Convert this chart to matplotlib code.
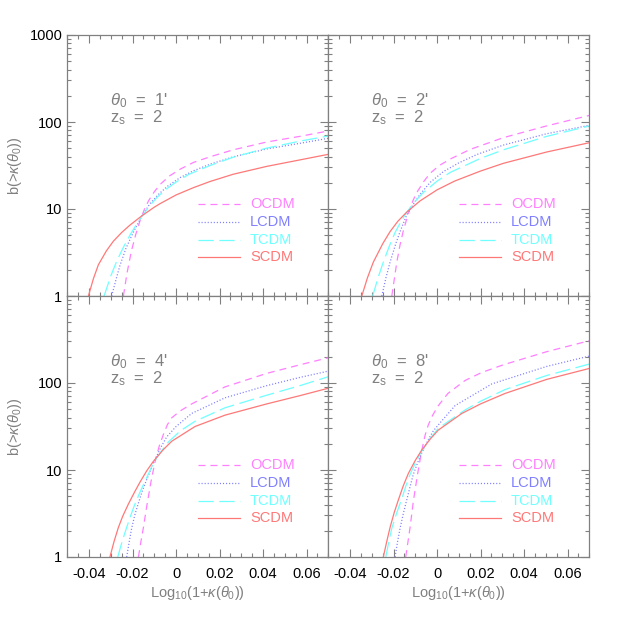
import matplotlib
matplotlib.use("Agg")
import matplotlib.pyplot as plt
from matplotlib.ticker import MultipleLocator, LogLocator, NullFormatter

plt.rcParams["font.family"] = ["Liberation Sans", "DejaVu Sans"]
plt.rcParams["mathtext.fontset"] = "custom"
plt.rcParams["mathtext.rm"] = "Liberation Sans"
plt.rcParams["mathtext.it"] = "Liberation Sans:italic"
plt.rcParams["axes.unicode_minus"] = False
plt.rcParams["lines.scale_dashes"] = False

# data: log10(1+kappa) vs b(>kappa), one panel per theta_0
thetas = [1, 2, 4, 8]
models = ["OCDM", "LCDM", "TCDM", "SCDM"]

# theta_0 = 1'
ocdm_x_1 = [-0.0242, -0.0225, -0.0205, -0.0185, -0.0165, -0.0145, -0.0125, -0.010, -0.007, -0.003, 0.002, 0.008, 0.0156, 0.0263, 0.0417, 0.057, 0.070]
ocdm_b_1 = [1, 1.86, 3.31, 5.13, 7.41, 10, 12.6, 15.8, 19.5, 24.0, 28.8, 34.3, 39.8, 47.9, 58.9, 68.4, 78.9]
lcdm_x_1 = [-0.0296, -0.0275, -0.0258, -0.023, -0.0197, -0.0158, -0.012, -0.008, -0.004, 0.0018, 0.008, 0.0156, 0.0263, 0.0417, 0.057, 0.070]
lcdm_b_1 = [1, 1.58, 2.24, 3.55, 5.37, 8.22, 11.5, 14.8, 18.2, 22.9, 27.5, 32.7, 39.8, 49.0, 56.9, 65]
tcdm_x_1 = [-0.0331, -0.030, -0.0273, -0.024, -0.0212, -0.018, -0.0158, -0.012, -0.0089, -0.005, 0.0, 0.006, 0.0156, 0.0263, 0.0417, 0.057, 0.070]
tcdm_b_1 = [1, 1.70, 2.51, 3.72, 5.01, 6.76, 8.22, 10.96, 13.5, 16.6, 20.4, 25.1, 31.6, 39.4, 50.1, 60.3, 69]
scdm_x_1 = [-0.0403, -0.038, -0.0357, -0.032, -0.0288, -0.025, -0.0212, -0.0158, -0.010, -0.0074, 0.0, 0.008, 0.0156, 0.0263, 0.0417, 0.057, 0.070]
scdm_b_1 = [1, 1.58, 2.29, 3.31, 4.27, 5.37, 6.53, 8.32, 10.5, 11.5, 14.5, 17.6, 20.7, 25.1, 30.9, 36.7, 42.5]

# theta_0 = 2'
ocdm_x_2 = [-0.0208, -0.0195, -0.0185, -0.017, -0.0155, -0.0132, -0.011, -0.0093, -0.006, -0.0032, 0.001, 0.0065, 0.0152, 0.0305, 0.0504, 0.070]
ocdm_b_2 = [1, 1.66, 2.45, 3.89, 5.62, 8.91, 12.6, 15.5, 20.9, 25.7, 31.6, 38.0, 48.4, 66.1, 90.2, 119]
lcdm_x_2 = [-0.0254, -0.0235, -0.0216, -0.019, -0.017, -0.0139, -0.010, -0.0078, -0.003, 0.0029, 0.010, 0.0182, 0.0305, 0.0504, 0.070]
lcdm_b_2 = [1, 1.62, 2.45, 3.98, 5.5, 8.6, 12.3, 14.8, 20.4, 26.9, 33.9, 42.2, 54.3, 73.3, 91.6]
tcdm_x_2 = [-0.0296, -0.027, -0.0247, -0.022, -0.0193, -0.0165, -0.0139, -0.010, -0.0063, 0.0, 0.006, 0.0198, 0.0305, 0.0504, 0.070]
tcdm_b_2 = [1, 1.66, 2.45, 3.72, 5.37, 7.24, 9.23, 12.3, 15.5, 20.9, 26.3, 38.0, 47.9, 68.4, 90]
scdm_x_2 = [-0.0346, -0.032, -0.0293, -0.025, -0.0216, -0.018, -0.0139, -0.0078, 0.0, 0.008, 0.0198, 0.0305, 0.0504, 0.070]
scdm_b_2 = [1, 1.62, 2.45, 3.98, 5.5, 7.24, 9.23, 12.4, 16.6, 20.9, 27.2, 33.5, 45.2, 57.8]

# theta_0 = 4'
ocdm_x_4 = [-0.0173, -0.0162, -0.015, -0.0135, -0.0115, -0.0097, -0.0078, -0.0058, -0.004, -0.002, 0.002, 0.0072, 0.0225, 0.0417, 0.057, 0.070]
ocdm_b_4 = [1, 1.48, 2.19, 3.8, 7.41, 12.3, 18.6, 25.7, 33.1, 39.8, 47.9, 57.5, 90.2, 129, 162, 195]
lcdm_x_4 = [-0.0227, -0.0215, -0.0204, -0.019, -0.0173, -0.0155, -0.0135, -0.0104, -0.007, -0.0043, 0.0, 0.0072, 0.0225, 0.0417, 0.057, 0.070]
lcdm_b_4 = [1, 1.51, 2.14, 3.02, 4.17, 5.75, 7.76, 12.0, 18.2, 24.0, 31.6, 44.7, 67.6, 93.3, 116, 137]
tcdm_x_4 = [-0.0268, -0.0248, -0.0227, -0.0208, -0.0189, -0.0165, -0.0143, -0.0104, -0.007, -0.0036, 0.002, 0.0087, 0.0225, 0.0417, 0.057, 0.070]
tcdm_b_4 = [1, 1.51, 2.19, 3.02, 4.07, 5.62, 7.41, 12.0, 16.2, 20.9, 28.2, 36.3, 51.9, 72.4, 93.3, 118]
scdm_x_4 = [-0.0304, -0.0285, -0.0265, -0.0245, -0.0219, -0.019, -0.0166, -0.0135, -0.0104, -0.006, -0.002, 0.0087, 0.0225, 0.0417, 0.057, 0.070]
scdm_b_4 = [1, 1.51, 2.19, 2.95, 4.07, 5.62, 7.24, 9.77, 12.6, 17.0, 21.4, 31.6, 42.7, 57.5, 71.6, 87.1]

# theta_0 = 8'
ocdm_x_8 = [-0.0144, -0.0134, -0.0124, -0.0109, -0.0089, -0.007, -0.0055, -0.004, -0.002, 0.0006, 0.005, 0.0129, 0.0205, 0.0305, 0.0504, 0.070]
ocdm_b_8 = [1, 1.48, 2.19, 4.37, 9.12, 17.0, 25.1, 33.1, 42.7, 55.0, 75.9, 107, 132, 162, 229, 306]
lcdm_x_8 = [-0.0193, -0.0182, -0.017, -0.0155, -0.0139, -0.0124, -0.0109, -0.009, -0.007, -0.004, -0.0017, 0.002, 0.0083, 0.0252, 0.0504, 0.070]
lcdm_b_8 = [1, 1.48, 2.14, 3.16, 4.57, 6.46, 8.91, 12.0, 15.8, 22.4, 28.2, 36.3, 55.0, 97.7, 155, 204]
tcdm_x_8 = [-0.0236, -0.0222, -0.0208, -0.0185, -0.0162, -0.0143, -0.0124, -0.010, -0.007, -0.003, 0.0006, 0.0129, 0.020, 0.0313, 0.0504, 0.070]
tcdm_b_8 = [1, 1.48, 2.14, 3.24, 4.68, 6.61, 8.91, 12.0, 16.6, 23.4, 30.2, 49.0, 61.7, 84.1, 122, 165]
scdm_x_8 = [-0.0247, -0.0232, -0.0216, -0.0197, -0.0178, -0.0155, -0.0132, -0.010, -0.007, -0.003, 0.0006, 0.0114, 0.020, 0.0313, 0.0504, 0.070]
scdm_b_8 = [1, 1.48, 2.19, 3.24, 4.52, 6.61, 9.12, 12.9, 17.0, 22.9, 28.8, 44.7, 57.5, 75.9, 110, 147]

curves = {
    1: [(ocdm_x_1, ocdm_b_1), (lcdm_x_1, lcdm_b_1), (tcdm_x_1, tcdm_b_1), (scdm_x_1, scdm_b_1)],
    2: [(ocdm_x_2, ocdm_b_2), (lcdm_x_2, lcdm_b_2), (tcdm_x_2, tcdm_b_2), (scdm_x_2, scdm_b_2)],
    4: [(ocdm_x_4, ocdm_b_4), (lcdm_x_4, lcdm_b_4), (tcdm_x_4, tcdm_b_4), (scdm_x_4, scdm_b_4)],
    8: [(ocdm_x_8, ocdm_b_8), (lcdm_x_8, lcdm_b_8), (tcdm_x_8, tcdm_b_8), (scdm_x_8, scdm_b_8)],
}

colors = ["#ff80ff", "#8080ff", "#70ffff", "#ff7878"]
dashes = [(5, 3.6), (0.8, 1.4), (11, 4), ()]
gray = "#808080"

fig = plt.figure(figsize=(6.23, 6.23), dpi=100)
W = 261 / 623
H = 261 / 623
L = 67.3 / 623
B = 66 / 623
positions = {1: (L, B + H), 2: (L + W, B + H), 4: (L, B), 8: (L + W, B)}

for th in thetas:
    x0, y0 = positions[th]
    ax = fig.add_axes([x0, y0, W, H])
    ax.set_yscale("log")
    for (xs, bs), c, d in zip(curves[th], colors, dashes):
        ln, = ax.plot(xs, bs, color=c, lw=0.9)
        if d:
            ln.set_dashes(d)
    ax.set_xlim(-0.05, 0.07)
    ax.set_ylim(1, 1000)

    # legend drawn by hand in axes fraction
    for i, (m, c, d) in enumerate(zip(models, colors, dashes)):
        yy = 0.351 - i * 0.0673
        ln, = ax.plot([0.502, 0.661], [yy, yy], color=c, lw=0.9, transform=ax.transAxes)
        if d:
            ln.set_dashes(d)
        ax.text(0.70, yy, m, color=c, fontsize=10.5, va="center", ha="left", transform=ax.transAxes)

    ax.text(0.164, 0.747, r"$\theta_0$  =  " + f"{th}'", color=gray, fontsize=12,
            va="center", ha="left", transform=ax.transAxes)
    ax.text(0.164, 0.682, r"z$_\mathrm{s}$  =  2", color=gray, fontsize=12,
            va="center", ha="left", transform=ax.transAxes)

    for s in ax.spines.values():
        s.set_color(gray)
        s.set_linewidth(0.9)
    ax.xaxis.set_major_locator(MultipleLocator(0.02))
    ax.xaxis.set_minor_locator(MultipleLocator(0.005))
    ax.yaxis.set_major_locator(LogLocator(base=10))
    ax.yaxis.set_minor_locator(LogLocator(base=10, subs=range(2, 10)))
    ax.yaxis.set_minor_formatter(NullFormatter())
    ax.tick_params(which="both", direction="in", top=True, right=True, color=gray,
                   labelsize=10.5, labelcolor="black")
    ax.tick_params(which="major", length=6, width=0.8)
    ax.tick_params(which="minor", length=3, width=0.8)

    ax.set_yticks([1, 10, 100, 1000])
    if th in (1, 4):
        ax.set_yticklabels(["1", "10", "100", "1000" if th == 1 else ""])
        ax.set_ylabel(r"b(>$\kappa$($\theta_0$))", color=gray, fontsize=10.5)
        ax.yaxis.set_label_coords(-0.165, 0.5)
    else:
        ax.set_yticklabels([])
    if th in (4, 8):
        ax.set_xticks([-0.04, -0.02, 0, 0.02, 0.04, 0.06])
        ax.set_xticklabels(["-0.04", "-0.02", "0", "0.02", "0.04", "0.06"])
        ax.tick_params(axis="x", pad=7)
        ax.set_xlabel(r"Log$_{10}$(1+$\kappa$($\theta_0$))", color=gray, fontsize=10.5, labelpad=2)
    else:
        ax.set_xticklabels([])

fig.savefig("out.png", dpi=100)
